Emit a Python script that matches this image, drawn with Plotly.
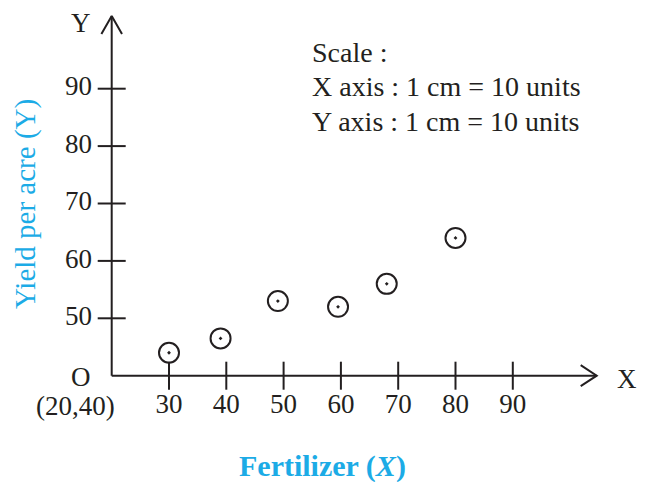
import plotly.graph_objects as go

# data
fertilizer = [30, 39, 49, 59.5, 68, 80]
yield_per_acre = [44, 46.5, 53, 52, 56, 64]
x_ticks = [30, 40, 50, 60, 70, 80, 90]
y_ticks = [50, 60, 70, 80, 90]
x_origin, y_origin = 20, 40
scale_lines = ["Scale :", "X axis : 1 cm = 10 units", "Y axis : 1 cm = 10 units"]

W, H = 647, 482
# pixel scale of the drawing
ox_px, oy_px = 111.7, 375.7
sx, sy = 5.73, 5.74


def dxp(px):
    return x_origin + (px - ox_px) / sx


def dyp(py):
    return y_origin + (oy_px - py) / sy


x_end = dxp(596.7)
y_end = dyp(16.0)

ink = "#231f20"
cyan = "#1cabe6"
serif = "Liberation Serif, Times New Roman, serif"

fig = go.Figure()

# axes lines
fig.add_trace(go.Scatter(x=[x_origin, x_end], y=[y_origin, y_origin], mode="lines",
                         line=dict(color=ink, width=2), hoverinfo="skip", showlegend=False))
fig.add_trace(go.Scatter(x=[x_origin, x_origin], y=[y_origin, y_end], mode="lines",
                         line=dict(color=ink, width=2), hoverinfo="skip", showlegend=False))

# arrow heads (open chevrons)
ax_dx, ax_dy = 16 / sx, 10.5 / sy
fig.add_trace(go.Scatter(
    x=[x_end - ax_dx, x_end, x_end - ax_dx], y=[y_origin + ax_dy, y_origin, y_origin - ax_dy],
    mode="lines", line=dict(color=ink, width=2), hoverinfo="skip", showlegend=False))
ay_dx, ay_dy = 10.3 / sx, 18 / sy
fig.add_trace(go.Scatter(
    x=[x_origin - ay_dx, x_origin, x_origin + ay_dx], y=[y_end - ay_dy, y_end, y_end - ay_dy],
    mode="lines", line=dict(color=ink, width=2), hoverinfo="skip", showlegend=False))

# tick marks crossing the axes
fig.add_trace(go.Scatter(
    x=x_ticks, y=[y_origin] * len(x_ticks), mode="markers",
    marker=dict(symbol="line-ns-open", size=20, color=ink, line=dict(color=ink, width=2)),
    hoverinfo="skip", showlegend=False))
fig.add_trace(go.Scatter(
    x=[x_origin] * len(y_ticks), y=y_ticks, mode="markers",
    marker=dict(symbol="line-ew-open", size=20, color=ink, line=dict(color=ink, width=2)),
    hoverinfo="skip", showlegend=False))

# tick labels
fig.add_trace(go.Scatter(
    x=x_ticks, y=[dyp(406)] * len(x_ticks), mode="text",
    text=[str(v) for v in x_ticks], textposition="middle center",
    textfont=dict(family=serif, size=27, color=ink), hoverinfo="skip", showlegend=False))
fig.add_trace(go.Scatter(
    x=[dxp(92)] * len(y_ticks), y=y_ticks, mode="text",
    text=[str(v) for v in y_ticks], textposition="middle left",
    textfont=dict(family=serif, size=27, color=ink), hoverinfo="skip", showlegend=False))

# data points
fig.add_trace(go.Scatter(
    x=fertilizer, y=yield_per_acre, mode="markers",
    marker=dict(symbol="circle-open-dot", size=20, color=ink,
                line=dict(color=ink, width=2)),
    showlegend=False))

fig.update_layout(
    width=W, height=H, autosize=False,
    margin=dict(l=0, r=0, t=0, b=0, pad=0),
    paper_bgcolor="white", plot_bgcolor="white",
    font=dict(family=serif, color=ink, size=27),
    xaxis=dict(range=[dxp(0), dxp(W)], visible=False, fixedrange=True),
    yaxis=dict(range=[dyp(H), dyp(0)], visible=False, fixedrange=True),
)

annotations = []
for text, px, py in [("O", 81, 377), ("(20,40)", 75, 406), ("Y", 81, 23), ("X", 627, 379)]:
    annotations.append(dict(text=text, x=px / W, y=1 - py / H,
                            xref="paper", yref="paper", showarrow=False,
                            xanchor="center", yanchor="middle",
                            font=dict(family=serif, size=27, color=ink)))
for text, py in zip(scale_lines, [52, 86, 121]):
    annotations.append(dict(
        text=text, x=310 / W, y=1 - py / H, xref="paper", yref="paper", showarrow=False,
        xanchor="left", yanchor="middle", align="left",
        font=dict(family=serif, size=28, color=ink)))
annotations.append(dict(
    text="<b>Fertilizer (<i>X</i>)</b>", x=322 / W, y=1 - 466 / H,
    xref="paper", yref="paper", showarrow=False, xanchor="center", yanchor="middle",
    font=dict(family=serif, size=30, color=cyan)))
annotations.append(dict(
    text="Yield per acre (Y)", x=25 / W, y=1 - 204 / H, textangle=-90,
    xref="paper", yref="paper", showarrow=False, xanchor="center", yanchor="middle",
    font=dict(family=serif, size=29, color=cyan)))
fig.update_layout(annotations=annotations)

fig.write_html("out.html", config={"displayModeBar": False},
               post_script="document.body.style.margin='0';")
